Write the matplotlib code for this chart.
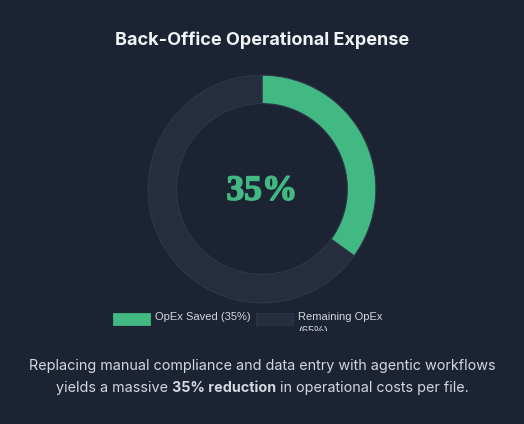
#!/usr/bin/env python3
"""Donut chart: back-office operational expense saved vs remaining."""

import matplotlib
matplotlib.use("Agg")
import matplotlib.pyplot as plt
import matplotlib.patheffects as pe
from matplotlib.patches import Rectangle
from matplotlib.transforms import Bbox

W, H = 524, 424
BG = "#1c2333"
GREEN = "#42b883"
DARK = "#252e3e"
EDGE = "#2e3749"
TEXT = "#d3d7de"

labels = ["OpEx Saved (35%)", "Remaining OpEx\n(65%)"]
values = [35, 65]
colors = [GREEN, DARK]
center_label = "35%"
title = "Back-Office Operational Expense"
note_line1 = "Replacing manual compliance and data entry with agentic workflows"
note_line2 = [("yields a massive ", "normal"), ("35% reduction", "bold"),
              (" in operational costs per file.", "normal")]


def px(x, y):
    # pixel coords (top-left origin) -> figure fraction
    return x / W, 1 - y / H


def main() -> None:
    plt.rcParams["font.family"] = ["Inter", "DejaVu Sans"]
    fig = plt.figure(figsize=(W / 100, H / 100), dpi=100, facecolor=BG)

    # --- Donut ---
    cx, cy, r = 262, 189, 115
    ax = fig.add_axes([(cx - r) / W, (H - cy - r) / H, 2 * r / W, 2 * r / H])
    ax.set_facecolor(BG)
    ax.pie(values, colors=colors, startangle=90, counterclock=False, radius=1,
           wedgeprops=dict(width=0.25, edgecolor=EDGE, linewidth=0.8))
    ax.set_xlim(-1.01, 1.01)
    ax.set_ylim(-1.01, 1.01)
    ax.set_aspect("equal")
    ax.axis("off")
    ax.text(0, -0.02, center_label, ha="center", va="center", color=GREEN,
            fontsize=25.5, fontweight="bold", family=["Liberation Serif"],
            path_effects=[pe.withStroke(linewidth=1.1, foreground=GREEN)])

    # --- Title ---
    fig.text(*px(262, 40), title, ha="center", va="center", color="#f1f3f6",
             fontsize=13, fontweight="bold")

    # --- Legend (manual, second label wraps and gets clipped) ---
    clip = Bbox.from_extents(0, H - 331, W, H)
    for (bx, tx), lab, col in zip([(113, 155), (256, 298)], labels, colors):
        fig.patches.append(Rectangle(px(bx, 325), 37 / W, 12 / H,
                                     transform=fig.transFigure, facecolor=col,
                                     edgecolor="#2e3749" if col == DARK else col,
                                     linewidth=0.6))
        t = fig.text(*px(tx, 312), lab, ha="left", va="top", color=TEXT,
                     fontsize=8, linespacing=1.5,
                     family=["Liberation Sans", "DejaVu Sans"])
        t.set_clip_on(True)
        t.set_clip_box(clip)

    # --- Note ---
    fig.text(*px(262, 366), note_line1, ha="center", va="center", color=TEXT,
             fontsize=10.35)
    fig.canvas.draw()
    renderer = fig.canvas.get_renderer()
    pieces = []
    total = 0
    for s, wgt in note_line2:
        t = fig.text(0, 1 - 388 / H, s, ha="left", va="center", color=TEXT,
                     fontsize=10.35, fontweight=wgt)
        w = t.get_window_extent(renderer).width
        pieces.append((t, w))
        total += w
    x = (W - total) / 2
    for t, w in pieces:
        t.set_x(x / W)
        x += w

    fig.savefig("out.png", dpi=100, facecolor=BG)


if __name__ == "__main__":
    main()
